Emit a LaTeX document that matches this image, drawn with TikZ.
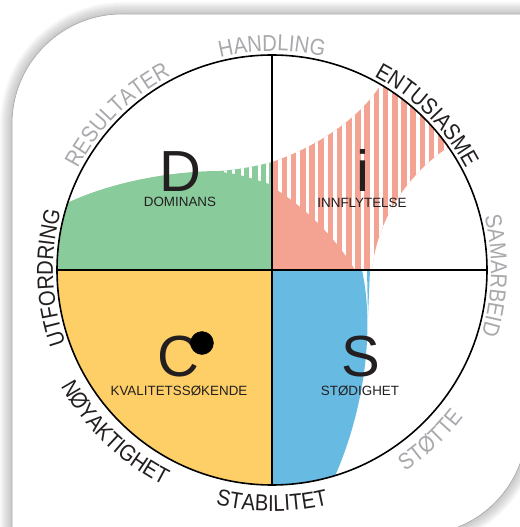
\documentclass[tikz,border=0pt]{standalone}
\usepackage{fontspec}
\setmainfont{Liberation Sans}
\newfontfamily\ringfam[FakeStretch=0.88]{Liberation Sans}
\usetikzlibrary{decorations.text}
\definecolor{discgreen}{RGB}{137,203,155}
\definecolor{discred}{RGB}{244,163,147}
\definecolor{discblue}{RGB}{103,187,227}
\definecolor{discyellow}{RGB}{253,207,102}
\definecolor{ringgray}{RGB}{167,169,172}
\definecolor{inkblack}{RGB}{35,31,32}
\newcommand\discring{\ringfam\fontsize{23}{23}\selectfont}
\newcommand\discbig{\fontsize{58}{58}\selectfont}
\newcommand\discsmall{\fontsize{13.4}{13.4}\selectfont}
\begin{document}
\begin{tikzpicture}[x=1pt, y=1pt, line join=round, line cap=round]
	\useasboundingbox (-272,-257) rectangle (247,270);
	% Kort med skygge
	\foreach \w in {2,4,...,24}
		\draw[line width=\w pt, black, opacity=0.018] (-260,-265) -- (-260,146) arc[start angle=180, end angle=90, radius=110] -- (255,256) -- (255,-155) arc[start angle=0, end angle=-90, radius=110] -- cycle;
	\draw[line width=0.6pt, black!35, fill=white] (-260,-265) -- (-260,146) arc[start angle=180, end angle=90, radius=110] -- (255,256) -- (255,-155) arc[start angle=0, end angle=-90, radius=110] -- cycle;
	\coordinate (O) at (0,0);
	% C
	\fill[discyellow] (O) -- (180:215) arc[start angle=180, end angle=270, radius=215] -- cycle;
	% D
	\fill[discgreen] (161.8:215) arc[start angle=161.8, end angle=180, radius=215] -- (O) -- (0,108) .. controls (-15,104) and (-30,101) .. (-52,99) .. controls (-100,99) and (-160,88) .. (161.8:215) -- cycle;
	\begin{scope}
		\clip (161.8:215) arc[start angle=161.8, end angle=180, radius=215] -- (O) -- (0,108) .. controls (-15,104) and (-30,101) .. (-52,99) .. controls (-100,99) and (-160,88) .. (161.8:215) -- cycle;
		\foreach \x in {-48,-39.6,...,-4}
			\fill[white] (\x,0) rectangle ++(3,200);
	\end{scope}
	\fill[discgreen] (161.8:215) arc[start angle=161.8, end angle=180, radius=215] -- (O) -- (0,85) .. controls (-15,90) and (-35,97) .. (-52,98) .. controls (-100,99) and (-160,88) .. (161.8:215) -- cycle;
	% i
	\fill[discred] (O) -- (0,108) .. controls (50,125) and (90,155) .. (59.6:215) arc[start angle=59.6, end angle=34.9, radius=215] .. controls (135,95) and (105,50) .. (100,0) -- cycle;
	\begin{scope}
		\clip (O) -- (0,108) .. controls (50,125) and (90,155) .. (59.6:215) arc[start angle=59.6, end angle=34.9, radius=215] .. controls (135,95) and (105,50) .. (100,0) -- cycle;
		\foreach \x in {6,15.2,...,180}
			\fill[white] (\x,0) rectangle ++(3.6,220);
	\end{scope}
	\fill[discred] (O) -- (0,83) .. controls (35,62) and (65,30) .. (83,0) -- cycle;
	% S
	\fill[discblue] (O) -- (90,0) .. controls (103,-60) and (92,-140) .. (-72.9:215) arc[start angle=-72.9, end angle=-90, radius=215] -- cycle;
	\fill[discblue] (95,0) -- (98,0) -- (96,-46) -- cycle;
	% Sirkel og akser
	\draw[line width=1.6pt] (O) circle (215);
	\draw[line width=1.1pt] (0,215) -- (0,-215);
	\draw[line width=1.1pt] (-215,0) -- (215,0);
	% Bokstaver
	\node[font=\discbig, text=inkblack, anchor=base, inner sep=0] (D) at (-92,78) {D};
	\node[font=\discbig, text=inkblack, anchor=base, inner sep=0] (i) at (91,78) {i};
	\node[font=\discbig, text=inkblack, anchor=base, inner sep=0] (C) at (-94,-106) {C};
	\node[font=\discbig, text=inkblack, anchor=base, inner sep=0] (S) at (89,-106) {S};
	\filldraw (-70,-73) circle (11.5);
	\node[font=\discsmall, text=inkblack, anchor=base, inner sep=0] (dom) at (-92,63) {DOMINANS};
	\node[font=\discsmall, text=inkblack, anchor=base, inner sep=0] (inn) at (90,62) {INNFLYTELSE};
	\node[font=\discsmall, text=inkblack, anchor=base, inner sep=0] (kva) at (-93,-125) {KVALITETSSØKENDE};
	\node[font=\discsmall, text=inkblack, anchor=base, inner sep=0] (sto) at (88,-125) {STØDIGHET};
	% Ring
	\path[decorate, decoration={text along path, text align=center, text color=ringgray, text={|\discring|HANDLING}}] (150:219) arc[start angle=150, end angle=30, radius=219];
	\path[decorate, decoration={text along path, text align=center, text color=inkblack, text={|\discring|ENTUSIASME}}] (105:219) arc[start angle=105, end angle=-15, radius=219];
	\path[decorate, decoration={text along path, text align=center, text color=ringgray, text={|\discring|SAMARBEID}}] (58.5:219) arc[start angle=58.5, end angle=-61.5, radius=219];
	\path[decorate, decoration={text along path, text align=center, text color=ringgray, text={|\discring|RESULTATER}}] (195:219) arc[start angle=195, end angle=75, radius=219];
	\path[decorate, decoration={text along path, text align=center, text color=inkblack, text={|\discring|UTFORDRING}}] (242:219) arc[start angle=242, end angle=122, radius=219];
	\path[decorate, decoration={text along path, text align=center, text color=inkblack, text={|\discring|STABILITET}}] (-150:241) arc[start angle=-150, end angle=-30, radius=241];
	\path[decorate, decoration={text along path, text align=center, text color=inkblack, text={|\discring|NØYAKTIGHET}}] (-194:241) arc[start angle=-194, end angle=-74, radius=241];
	\path[decorate, decoration={text along path, text align=center, text color=ringgray, text={|\discring|STØTTE}}] (-107:241) arc[start angle=-107, end angle=13, radius=241];
\end{tikzpicture}
\end{document}
